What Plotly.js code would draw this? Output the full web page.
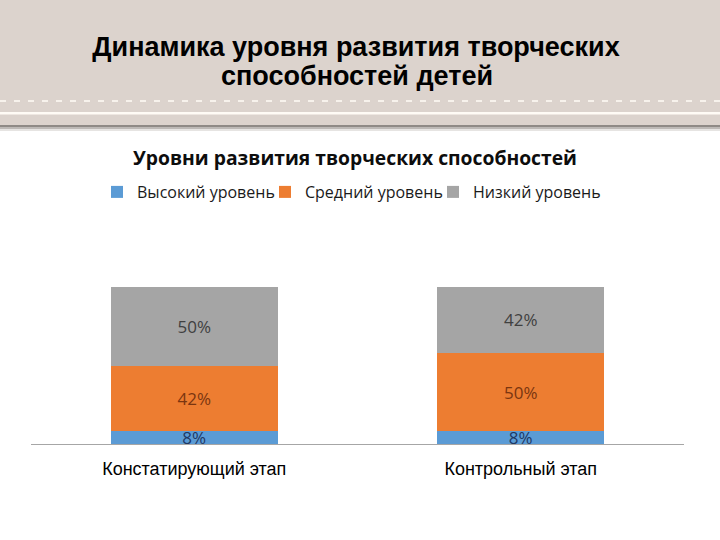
<!DOCTYPE html>
<html><head><meta charset="utf-8">
<script src="https://cdn.plot.ly/plotly-3.0.1.min.js"></script>
<style>html,body{margin:0;padding:0;background:#fff}#chart{width:720px;height:540px}</style>
</head><body><div id="chart"></div>
<script>
// ---- data ----
const categories = ['Констатирующий этап', 'Контрольный этап'];
const seriesNames = ['Высокий уровень', 'Средний уровень', 'Низкий уровень'];
const highLevel = [8, 8];
const midLevel = [42, 50];
const lowLevel = [50, 42];
const mainTitleLines = ['Динамика уровня развития творческих', 'способностей детей'];
const chartTitle = 'Уровни развития творческих способностей';

// ---- styles ----
const seriesColors = ['#5B9BD5', '#ED7D31', '#A5A5A5'];
const labelColors = ['#1F3864', '#7A3510', '#404040'];
const seriesValues = [highLevel, midLevel, lowLevel];

// plot area in pixels
const L = 31, R = 684, T = 287, B = 444;
const px = p => (p - L) / (R - L);
const py = p => (B - p) / (B - T);

const traces = seriesValues.map((vals, i) => ({
  type: 'bar',
  name: seriesNames[i],
  x: categories,
  y: vals,
  marker: {color: seriesColors[i], line: {width: 0}},
  texttemplate: '%{y}%',
  textposition: 'inside',
  insidetextanchor: 'middle',
  constraintext: 'none',
  textangle: 0,
  cliponaxis: false,
  insidetextfont: {family: 'Open Sans, sans-serif', size: 17, color: labelColors[i]},
  hoverinfo: 'none'
}));

function rect(y0, y1, color) {
  return {type: 'rect', xref: 'paper', yref: 'paper', layer: 'below',
    x0: px(0), x1: px(720), y0: py(y0), y1: py(y1),
    fillcolor: color, line: {width: 0}};
}

const shapes = [
  rect(0, 126, '#DCD3CD'),
  rect(125, 127, '#8F8A86'),
  rect(127, 129, '#BDB9B6'),
  rect(129, 131, '#E6E4E2'),
  rect(112, 114.5, '#FFFBF5'),
  {type: 'line', xref: 'paper', yref: 'paper', layer: 'below',
   x0: px(0), x1: px(720), y0: py(101), y1: py(101),
   line: {color: '#F7F2EC', width: 2, dash: '6px,8px'}}
];

const titleFont = {family: 'Liberation Sans, Arial, sans-serif', size: 27, color: '#000000'};

const layout = {
  width: 720, height: 540,
  margin: {l: L, r: 720 - R, t: T, b: 540 - B, pad: 0},
  paper_bgcolor: '#FFFFFF',
  plot_bgcolor: 'rgba(0,0,0,0)',
  barmode: 'stack',
  bargap: 0.489,
  showlegend: true,
  title: {
    text: '<b>' + mainTitleLines[0] + '</b>',
    font: titleFont,
    x: 356 / 720, xanchor: 'center', xref: 'container',
    y: 1 - 47 / 540, yanchor: 'middle', yref: 'container'
  },
  legend: {
    orientation: 'h', traceorder: 'normal',
    entrywidth: 123, entrywidthmode: 'pixels',
    x: px(97), xanchor: 'left', y: py(192), yanchor: 'middle',
    font: {family: 'Open Sans, sans-serif', size: 16, color: '#1A1A1A'},
    bgcolor: 'rgba(0,0,0,0)'
  },
  annotations: [{
    text: '<b>' + mainTitleLines[1] + '</b>', showarrow: false,
    xref: 'paper', yref: 'paper', x: px(357), y: py(76),
    xanchor: 'center', yanchor: 'middle', font: titleFont
  }, {
    text: '<b>' + chartTitle + '</b>', showarrow: false,
    xref: 'paper', yref: 'paper', x: px(355), y: py(157),
    xanchor: 'center', yanchor: 'middle',
    font: {family: 'Open Sans, sans-serif', size: 19.3, color: '#0D0D0D'}
  }],
  xaxis: {
    type: 'category', showline: true, linecolor: '#A6A6A6', linewidth: 1,
    ticks: '', showgrid: false, zeroline: false, ticklabelstandoff: 8,
    tickfont: {family: 'Liberation Sans, Arial, sans-serif', size: 18, color: '#000000'}
  },
  yaxis: {range: [0, 100], visible: false, showgrid: false, zeroline: false, fixedrange: true},
  shapes: shapes
};

Plotly.newPlot('chart', traces, layout, {displayModeBar: false, staticPlot: true});
</script>
</body></html>
